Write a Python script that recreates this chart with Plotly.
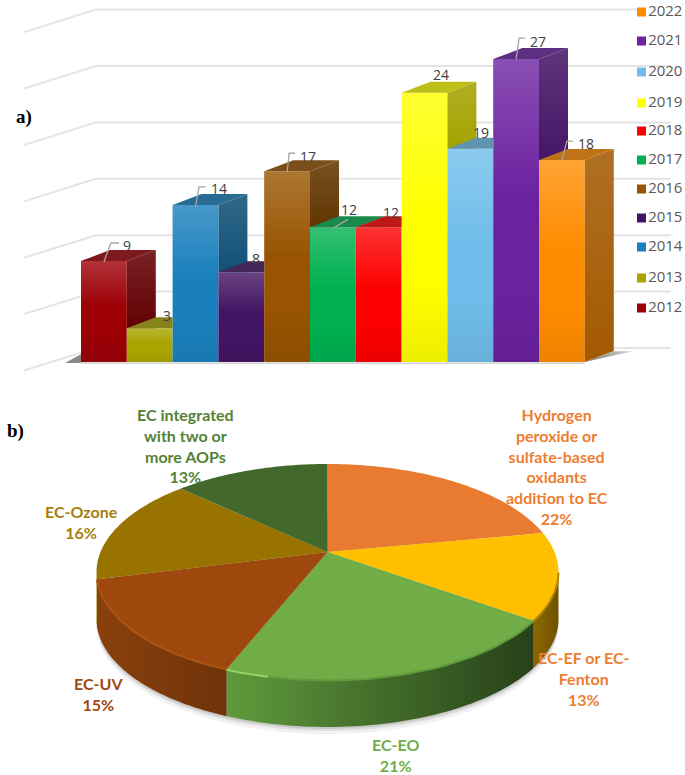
import numpy as np
import plotly.graph_objects as go

# a) publications per year
years = [2012, 2013, 2014, 2015, 2016, 2017, 2018, 2019, 2020, 2021, 2022]
counts = [9, 3, 14, 8, 17, 12, 12, 24, 19, 27, 18]
bar_colors = ['#9c0006', '#a8a400', '#1a80bd', '#431464', '#985400', '#00b050',
              '#fd0000', '#ffff00', '#6fbdea', '#6c22a0', '#ff8c00']
wall_ticks = [0, 5, 10, 15, 20, 25, 30]

# b) share per process, clockwise from the top
pie_names = ['Hydrogen<br>peroxide or<br>sulfate-based<br>oxidants<br>addition to EC', 'EC-EF or EC-<br>Fenton', 'EC-EO', 'EC-UV',
             'EC-Ozone', 'EC integrated<br>with two or<br>more AOPs']
pie_shares = [22, 13, 21, 15, 16, 13]
pie_colors = ['#e97b30', '#ffc000', '#70ad47', '#9e480e', '#997300', '#43682b']
side_left = ['#e97b30', '#8a6800', '#5f9a3c', '#8a400d', '#997300', '#43682b']
side_right = ['#e97b30', '#6f5200', '#274019', '#6f3309', '#997300', '#43682b']
rim_colors = [None, '#b08600', '#5f9a3c', '#ab5414', None, None]
label_colors = ['#ed7d31', '#ed7d31', '#70ad47', '#9e480e', '#a67f0a', '#548235']
label_xy = [(557, 466), (584, 678), (395, 755), (98, 694), (81, 522), (185, 445)]

W, H = 685, 775
BAR_W, UNIT = 45.8, 11.22   # px per bar, px per count
X0, BASE = 81, 362          # left edge of first bar and bar base in px
DX, DY = 29 / BAR_W, 11 / UNIT  # depth of the bars in axis units
x_lo = years[0] - 0.5 - X0 / BAR_W
y_hi = BASE / UNIT
WALL_UNIT = 11.28


def shade(color, f):
    c = [int(color[i:i + 2], 16) for i in (1, 3, 5)]
    if f <= 1:
        c = [v * f for v in c]
    else:
        c = [v + (255 - v) * (f - 1) for v in c]
    return '#%02x%02x%02x' % tuple(int(v) for v in c)


fig = go.Figure()

# back wall and left wall lines
wall_x, wall_y = [], []
for v in wall_ticks:
    wall_x += [-72, 0, 541 if v == wall_ticks[-1] else 575, None]
    wall_y += [v - 2, v, v, None]
fig.add_trace(go.Scatter(x=wall_x, y=wall_y, mode='lines', line=dict(color='#e4e4e4', width=2),
                         xaxis='x', yaxis='y', hoverinfo='skip'))

# floor shadow
fig.add_trace(go.Scatter(x=[years[0] - 0.85, years[0] - 0.5, years[0] - 0.5], y=[-0.1, 0.7, -0.1], fill='toself',
                         mode='none', fillcolor='#8a8a8a', xaxis='x2', yaxis='y2', hoverinfo='skip'))
fig.add_trace(go.Scatter(x=[years[-1] + 0.5, years[-1] + 0.5 + DX, years[-1] + 1.55, years[-1] + 0.5],
                         y=[0, 0.95, 0.95, 0], fill='toself', mode='none', xaxis='x2', yaxis='y2', hoverinfo='skip',
                         fillgradient=dict(type='horizontal', colorscale=[[0, '#777777'], [1, '#d8d8d8']])))

# front faces
fig.add_trace(go.Bar(x=years, y=counts, width=1, marker=dict(color=bar_colors, line=dict(width=0)),
                     xaxis='x2', yaxis='y2', name='count'))

label_off = [(23, -16), (17, -13), (23.5, -16), (15, -14), (21, -15), (16, -18), (12, -15), (16.5, -18), (11, -16), (22, -18), (24, -17)]
# hooks from the bar top to the label, px relative to the bar top centre
hooks = {2012: [(0, 1), (7, -18), (15, -18)], 2014: [(0, 2), (3.5, -18), (10, -18)], 2016: [(0, 1), (2, -18), (8, -18)],
         2017: [(0, 1), (15, -8)], 2021: [(0, 0), (3, -21), (9, -21)], 2022: [(0, 0), (5, -19), (11, -19)]}

annotations = []
for i, (yr, v, c) in enumerate(zip(years, counts, bar_colors)):
    l, r = yr - 0.5, yr + 0.5
    nv = counts[i + 1] if i + 1 < len(counts) else None

    # side face, cut where the next bar stands in front of it
    if nv is None:
        sx, sy = [r, r + DX, r + DX, r], [0, DY, v + DY, v]
    elif nv < v:
        sx, sy = [r, r + DX, r + DX, r], [nv, nv, v + DY, v]
    elif nv < v + DY:
        sx, sy = [r + DX * (nv - v) / DY, r + DX, r + DX], [nv, nv, v + DY]
    else:
        sx, sy = [], []
    if sx:
        side = shade(c, 0.64)
        fig.add_trace(go.Scatter(x=sx, y=sy, fill='toself', mode='none', xaxis='x2', yaxis='y2', hoverinfo='skip',
                                 fillgradient=dict(type='vertical', colorscale=[[0, side], [1, shade(side, 1.14)]])))

    # top face
    if nv is not None and nv > v:
        tx = [l, r, r, l + DX]
    else:
        tx = [l, r, r + DX, l + DX]
    fig.add_trace(go.Scatter(x=tx, y=[v, v, v + DY, v + DY], fill='toself', mode='none', fillcolor=shade(shade(c, 0.72), 1.1),
                             xaxis='x2', yaxis='y2', hoverinfo='skip'))

    # gloss on the front face
    fig.add_trace(go.Scatter(x=[l, r, r, l], y=[0, 0, v, v], fill='toself', mode='none', xaxis='x2', yaxis='y2', hoverinfo='skip',
                             fillgradient=dict(type='vertical',
                                               colorscale=[[0, 'rgba(0,0,0,0.07)'], [0.3, 'rgba(0,0,0,0)'],
                                                           [0.55, 'rgba(255,255,255,0)'], [1, 'rgba(255,255,255,0.2)']])))

    if yr in hooks:
        hx = [yr + p[0] / BAR_W for p in hooks[yr]]
        hy = [v - p[1] / UNIT for p in hooks[yr]]
        fig.add_trace(go.Scatter(x=hx, y=hy, mode='lines', line=dict(color='#a6a6a6', width=1.3), xaxis='x2', yaxis='y2', hoverinfo='skip'))
    annotations.append(dict(x=yr, y=v, xref='x2', yref='y2', text=str(v), showarrow=False, xshift=label_off[i][0], yshift=-label_off[i][1],
                            font=dict(family='Open Sans', size=14, color='#404040')))

# floor line under the bars
fig.add_trace(go.Scatter(x=[years[0] - 0.5, years[-1] + 0.5], y=[-0.1, -0.1], mode='lines', line=dict(color='#c8c8c8', width=1.2),
                         xaxis='x2', yaxis='y2', hoverinfo='skip'))

# legend, newest year on top
leg_y = [12, 41, 72, 103, 131, 160, 189, 218, 247, 278, 308]
fig.add_trace(go.Scatter(x=[641.5] * len(years), y=leg_y, mode='markers+text', xaxis='x3', yaxis='y3', hoverinfo='skip',
                         marker=dict(symbol='square', size=9, color=bar_colors[::-1]),
                         text=[str(y) for y in years[::-1]], textposition='middle right',
                         textfont=dict(family='Open Sans', size=15, color='#595959')))

# tilted pie, a circle seen in perspective so the centre sits above the middle of the ellipse
PX, PY = 327.5, 552
A, B, K = 104.3, 227, 0.1852
DEPTH = 47


def rim(theta):
    u, v = np.sin(theta), np.cos(theta)
    return PX + B * u / (1 + K * v), PY - A * v / (1 + K * v)


# drop shadow
t = np.linspace(0, 2 * np.pi, 181)
for extra, alpha in [(DEPTH + 7, 0.05), (DEPTH + 4, 0.07), (DEPTH + 2, 0.1)]:
    rx, ry = rim(t)
    fig.add_trace(go.Scatter(x=rx, y=ry + extra, fill='toself', mode='none', fillcolor='rgba(0,0,0,%s)' % alpha,
                             xaxis='x3', yaxis='y3', hoverinfo='skip'))

edges = np.cumsum([0] + pie_shares) / sum(pie_shares) * 2 * np.pi
side_a, side_b = np.arccos(-K), 2 * np.pi - np.arccos(-K)

# side wall
for i in range(len(pie_shares)):
    a, b = max(edges[i], side_a), min(edges[i + 1], side_b)
    if b <= a:
        continue
    t = np.linspace(a, b, 60)
    rx, ry = rim(t)
    fig.add_trace(go.Scatter(x=np.r_[rx, rx[::-1]], y=np.r_[ry, ry[::-1] + DEPTH], fill='toself', mode='none',
                             xaxis='x3', yaxis='y3', hoverinfo='skip',
                             fillgradient=dict(type='horizontal', colorscale=[[0, side_left[i]], [1, side_right[i]]])))

# top slices
for i in range(len(pie_shares)):
    t = np.linspace(edges[i], edges[i + 1], 60)
    rx, ry = rim(t)
    fig.add_trace(go.Scatter(x=np.r_[PX, rx, PX], y=np.r_[PY, ry, PY], fill='toself', mode='none', fillcolor=pie_colors[i],
                             xaxis='x3', yaxis='y3', name=pie_names[i].replace('<br>', ' '), hoverinfo='name'))
    annotations.append(dict(x=label_xy[i][0], y=label_xy[i][1], xref='x3', yref='y3', showarrow=False,
                            text='<b>%s<br>%d%%</b>' % (pie_names[i], pie_shares[i]),
                            font=dict(family='Lato', size=16, color=label_colors[i])))

# bevel along the front rim
for i in range(len(pie_shares)):
    a, b = max(edges[i], side_a), min(edges[i + 1], side_b)
    if b <= a or rim_colors[i] is None:
        continue
    rx, ry = rim(np.linspace(a, b, 40))
    fig.add_trace(go.Scatter(x=rx, y=ry + 0.5, mode='lines', line=dict(color=rim_colors[i], width=2),
                             xaxis='x3', yaxis='y3', hoverinfo='skip'))
# the bright start of the green rim
rx, ry = rim(np.linspace(edges[3] - 0.16, edges[3], 12))
fig.add_trace(go.Scatter(x=rx, y=ry + 0.5, mode='lines', line=dict(color='#93d665', width=2), xaxis='x3', yaxis='y3', hoverinfo='skip'))

for text, x, y in [('a)', 24, 117), ('b)', 15, 431)]:
    annotations.append(dict(x=x, y=y, xref='x3', yref='y3', text='<b>%s</b>' % text, showarrow=False,
                            font=dict(family='Liberation Serif', size=19, color='black')))

fig.update_layout(
    width=W, height=H, margin=dict(l=0, r=0, t=0, b=0), showlegend=False,
    paper_bgcolor='white', plot_bgcolor='rgba(0,0,0,0)', annotations=annotations,
    # wall lines, x in px from the left end of the wall, y in counts
    xaxis=dict(domain=[0, 1], range=[-96, W - 96], visible=False, fixedrange=True),
    yaxis=dict(domain=[0, 1], range=[(348 - H) / WALL_UNIT, 348 / WALL_UNIT], visible=False, fixedrange=True),
    # bars
    xaxis2=dict(domain=[0, 1], range=[x_lo, x_lo + W / BAR_W], visible=False, anchor='y2', fixedrange=True),
    yaxis2=dict(domain=[0, 1], range=[y_hi - H / UNIT, y_hi], visible=False, anchor='x2', fixedrange=True),
    # pie, legend and labels, in page units
    xaxis3=dict(domain=[0, 1], range=[0, W], visible=False, anchor='y3', fixedrange=True),
    yaxis3=dict(domain=[0, 1], range=[H, 0], visible=False, anchor='x3', fixedrange=True),
)

fig.write_html("out.html", config=dict(displayModeBar=False), post_script="document.body.style.margin='0';")
